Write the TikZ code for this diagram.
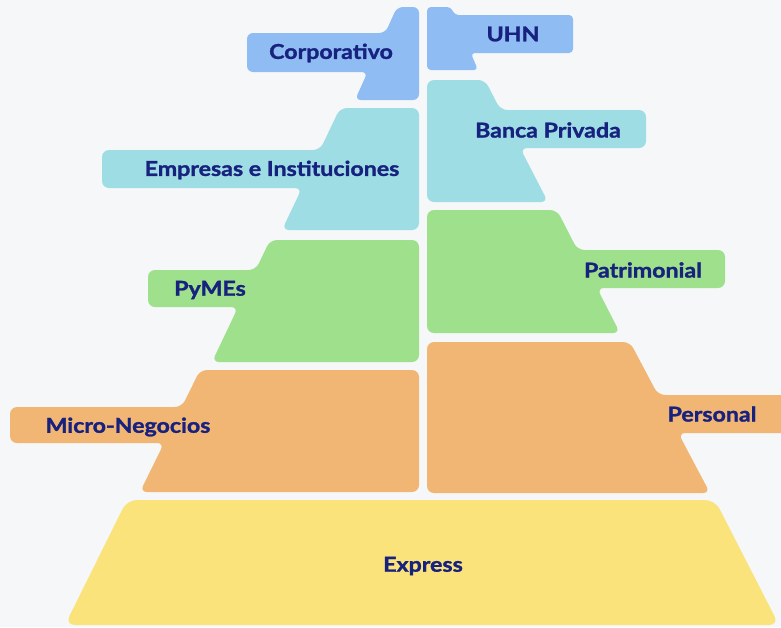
\documentclass[tikz,border=0pt]{standalone}
\usepackage{fontspec}
\setmainfont{Lato}
\newfontfamily\lblfont[BoldFeatures={FakeBold=1.3}]{Lato}
\definecolor{bg}{HTML}{F5F7F8}
\definecolor{cblue}{HTML}{8FBCF3}
\definecolor{ccyan}{HTML}{9FDDE4}
\definecolor{cgreen}{HTML}{9EE08B}
\definecolor{corange}{HTML}{F2B674}
\definecolor{cyellow}{HTML}{F9E37A}
\definecolor{ink}{HTML}{17217E}
\newcommand{\lpiece}[9]{%
 \pgfmathsetmacro\xa{#4+(#5-#4)*(#7-#2)/(#3-#2)}%
 \pgfmathsetmacro\xb{#4+(#5-#4)*(#8-#2)/(#3-#2)}%
 \fill[#1, rounded corners=#9] (#4,#2) -- (419,#2) -- (419,#3) -- (#5,#3) -- (\xb,#8) -- (#6,#8) -- (#6,#7) -- (\xa,#7) -- cycle;}
\newcommand{\rpiece}[9]{%
 \pgfmathsetmacro\xa{#4+(#5-#4)*(#7-#2)/(#3-#2)}%
 \pgfmathsetmacro\xb{#4+(#5-#4)*(#8-#2)/(#3-#2)}%
 \fill[#1, rounded corners=#9] (427,#2) -- (#4,#2) -- (\xa,#7) -- (#6,#7) -- (#6,#8) -- (\xb,#8) -- (#5,#3) -- (427,#3) -- cycle;}
\tikzset{lbl/.style={text=ink, font=\lblfont\fontsize{20.5}{22}\selectfont\bfseries, inner sep=0pt, xscale=1.13}}
\begin{document}
\begin{tikzpicture}[x=1pt,y=-1pt]
\useasboundingbox (0,0) rectangle (781,627);
\clip (0,0) rectangle (781,627);
\fill[bg] (0,0) rectangle (781,627);
% left pieces
\lpiece{cblue}{7}{100}{397}{355}{247}{33}{72}{6pt}
\lpiece{ccyan}{108}{230}{340}{282}{102}{150}{188}{7pt}
\lpiece{cgreen}{240}{362}{270}{212}{148}{270}{307}{7pt}
\lpiece{corange}{370}{492}{200}{140}{10}{407}{443}{7pt}
% right pieces
\rpiece{cblue}{7}{70}{451}{478}{573}{15}{53}{4pt}
\rpiece{ccyan}{80}{202}{485}{548}{646}{110}{148}{7pt}
\rpiece{cgreen}{210}{333}{557}{620}{725}{250}{288}{7pt}
\rpiece{corange}{342}{493}{630}{710}{810}{395}{433}{7pt}
% base
\fill[cyellow, rounded corners=10pt] (127,500) -- (715,500) -- (779,625) -- (65,625) -- cycle;
% labels
\node[lbl] (corp) at (331,53) {Corporativo};
\node[lbl] (uhn) at (513,34) {UHN};
\node[lbl] (emp) at (272,170) {Empresas e Instituciones};
\node[lbl] (banca) at (548,130) {Banca Privada};
\node[lbl] (pymes) at (210,290) {PyMEs};
\node[lbl] (patr) at (643,270) {Patrimonial};
\node[lbl] (micro) at (128,427) {Micro-Negocios};
\node[lbl] (pers) at (712,414) {Personal};
\node[lbl] (expr) at (423,566) {Express};
\end{tikzpicture}
\end{document}
